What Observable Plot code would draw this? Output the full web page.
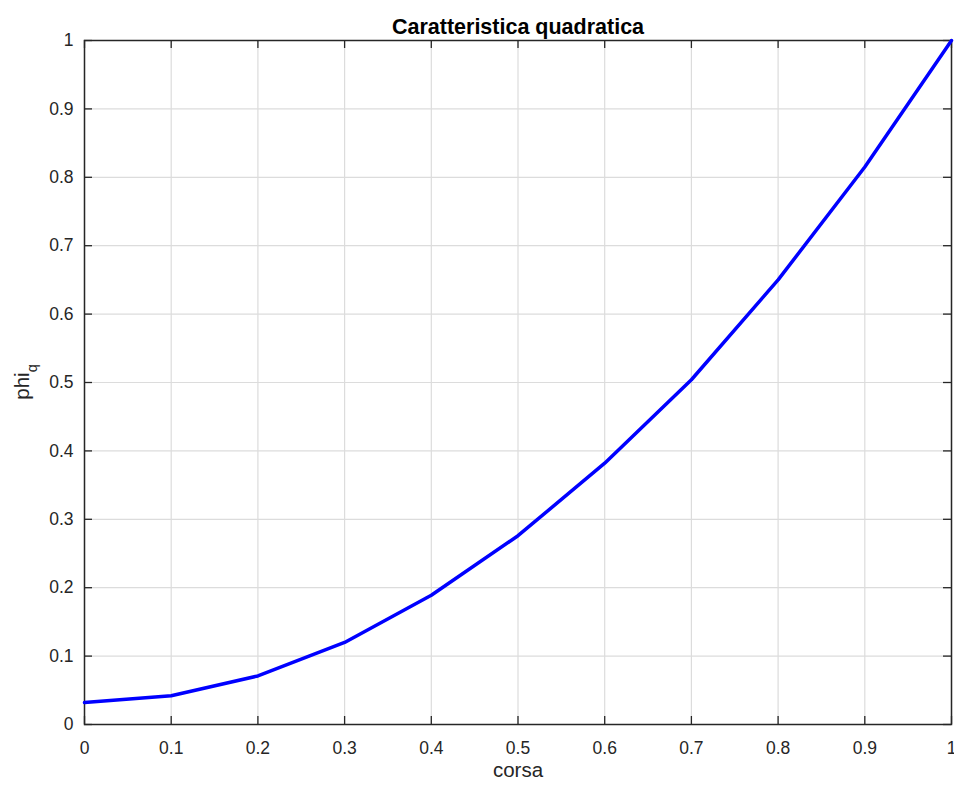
<!DOCTYPE html>
<html>
<head>
<meta charset="utf-8">
<script src="https://cdn.jsdelivr.net/npm/d3@7"></script>
<script src="https://cdn.jsdelivr.net/npm/@observablehq/plot@0.6"></script>
<style>
  html, body { margin: 0; padding: 0; background: #fff; }
  #chart svg { overflow: visible; }
</style>
</head>
<body>
<div id="chart"></div>
<script>
// Data
const corsa = [0, 0.1, 0.2, 0.3, 0.4, 0.5, 0.6, 0.7, 0.8, 0.9, 1];
const phiQ  = [0.032, 0.042, 0.071, 0.120, 0.189, 0.276, 0.382, 0.504, 0.650, 0.815, 1.0];
const xTicks = [0, 0.1, 0.2, 0.3, 0.4, 0.5, 0.6, 0.7, 0.8, 0.9, 1];
const yTicks = [0, 0.1, 0.2, 0.3, 0.4, 0.5, 0.6, 0.7, 0.8, 0.9, 1];
const xDomain = [0, 1];
const yDomain = [0, 1];
const title = "Caratteristica quadratica";
const xLabel = "corsa";
const yLabelMain = "phi";
const yLabelSub = "q";

const data = corsa.map((x, i) => ({x, y: phiQ[i]}));
const axisColor = "#262626";
const font = "'Liberation Sans', Arial, Helvetica, sans-serif";

const chart = Plot.plot({
  width: 954,
  height: 788,
  marginLeft: 84,
  marginRight: 3,
  marginTop: 40,
  marginBottom: 64,
  style: {fontFamily: font, fontSize: "17px", color: axisColor, background: "#fff"},
  x: {domain: xDomain, label: null},
  y: {domain: yDomain, label: null},
  marks: [
    Plot.gridX(xTicks, {stroke: "#dcdcdc", strokeOpacity: 1, strokeWidth: 1.2}),
    Plot.gridY(yTicks, {stroke: "#dcdcdc", strokeOpacity: 1, strokeWidth: 1.2}),
    Plot.axisX(xTicks, {anchor: "bottom", tickSize: 0, tickPadding: 17, tickFormat: d => String(d), fill: axisColor, fontSize: 17.5}),
    Plot.axisY(yTicks, {anchor: "left", tickSize: 0, tickPadding: 11, tickFormat: d => String(d), fill: axisColor, fontSize: 17.5}),
    // inward tick marks on all four sides
    Plot.ruleX(xTicks, {x: d => d, y1: () => yDomain[0], y2: () => yDomain[0], insetBottom: 8, stroke: axisColor, strokeWidth: 1.3}),
    Plot.ruleX(xTicks, {x: d => d, y1: () => yDomain[1], y2: () => yDomain[1], insetTop: 8, stroke: axisColor, strokeWidth: 1.3}),
    Plot.ruleY(yTicks, {y: d => d, x1: () => xDomain[0], x2: () => xDomain[0], insetLeft: 8, stroke: axisColor, strokeWidth: 1.3}),
    Plot.ruleY(yTicks, {y: d => d, x1: () => xDomain[1], x2: () => xDomain[1], insetRight: 8, stroke: axisColor, strokeWidth: 1.3}),
    Plot.frame({stroke: axisColor, strokeWidth: 1.5}),
    Plot.line(data, {x: "x", y: "y", stroke: "#0000ff", strokeWidth: 3.5}),
    Plot.text([title], {frameAnchor: "top", dy: -22, fontWeight: "bold", fontSize: 21.5, fill: "#000"}),
    Plot.text([xLabel], {frameAnchor: "bottom", dy: 52, fontSize: 20.5, fill: axisColor})
  ]
});

document.getElementById("chart").appendChild(chart);

// y-axis label with subscript (phi_q)
const svg = d3.select(chart);
const cy = 40 + (788 - 40 - 64) / 2;
const t = svg.append("text")
  .attr("transform", `translate(29,${cy}) rotate(-90)`)
  .attr("text-anchor", "middle")
  .attr("fill", axisColor)
  .attr("font-family", font)
  .attr("font-size", 20.5);
t.append("tspan").text(yLabelMain);
t.append("tspan").attr("font-size", 14.5).attr("dy", 8).text(yLabelSub);
</script>
</body>
</html>
